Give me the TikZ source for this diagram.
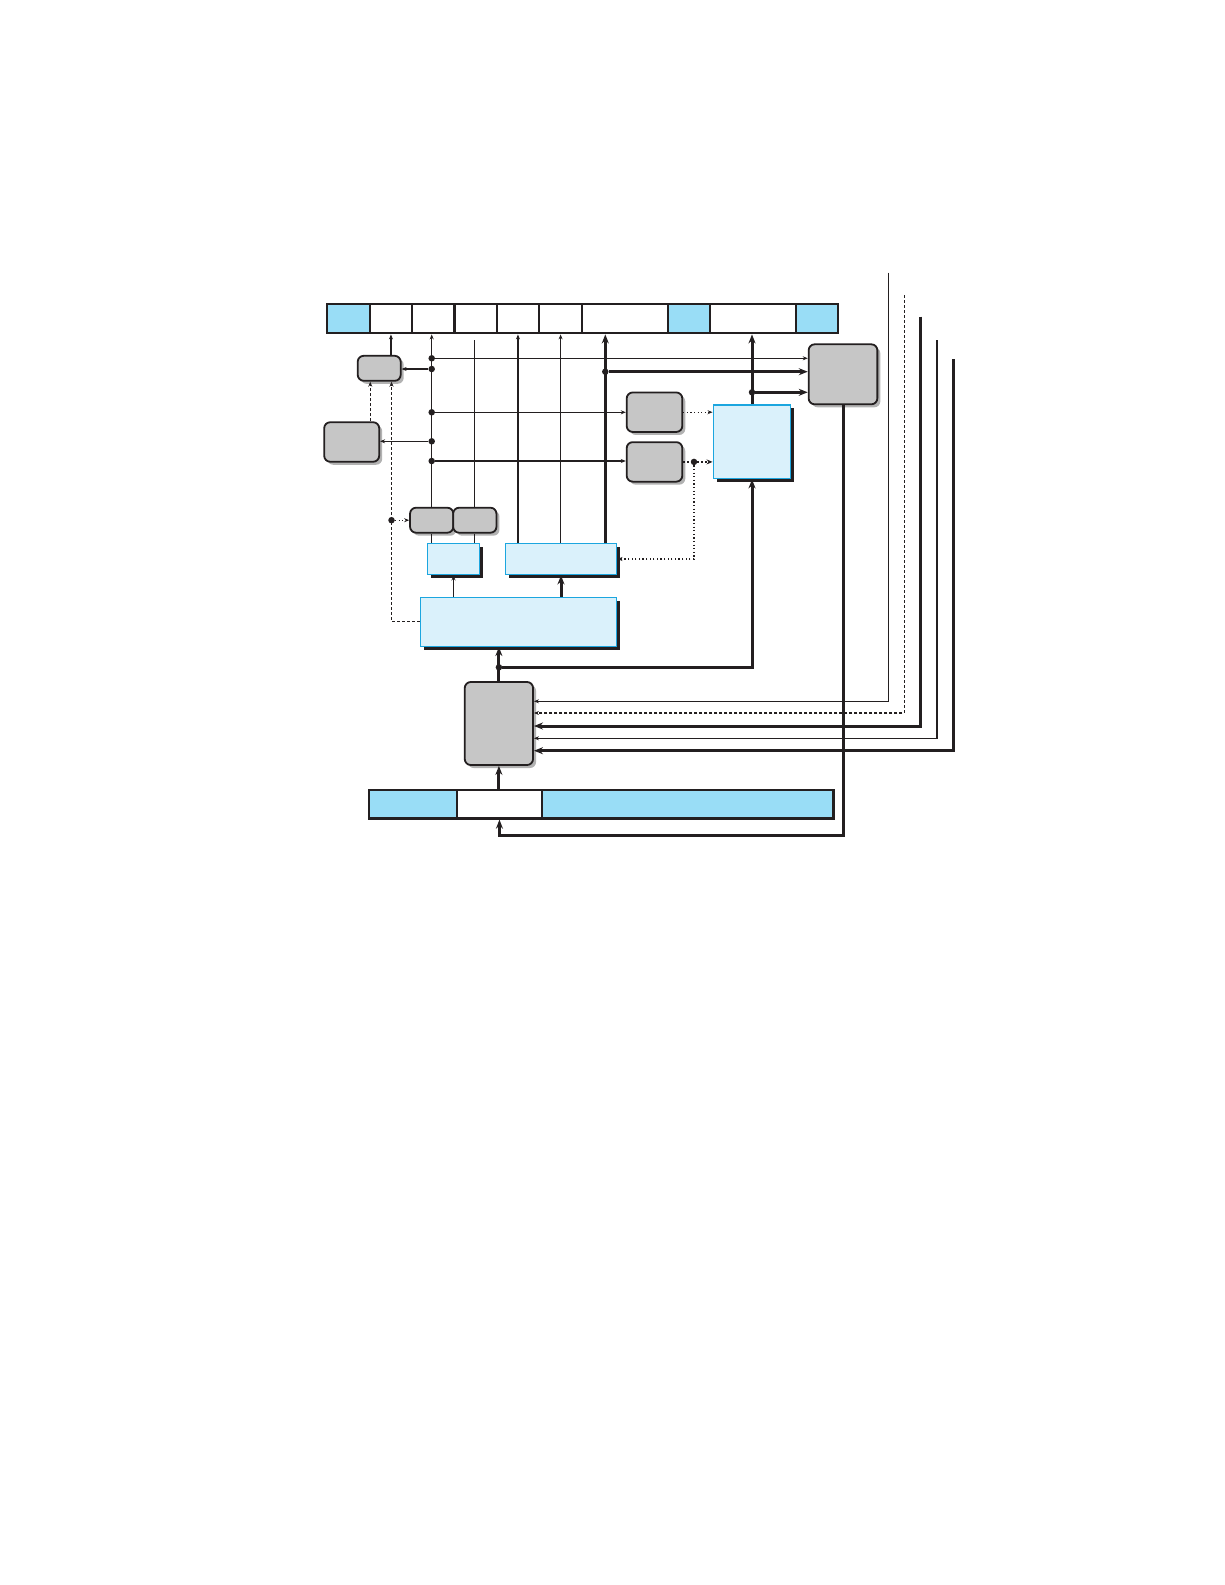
\documentclass[tikz,border=0pt]{standalone}
\usetikzlibrary{arrows.meta,shadows,calc}

\definecolor{ink}{HTML}{231F20}
\definecolor{regblue}{HTML}{99DDF6}
\definecolor{unitgray}{HTML}{C6C6C6}
\definecolor{stagefill}{HTML}{DAF1FB}
\definecolor{stageedge}{HTML}{1CA6DF}

\tikzset{
  cell/.style={draw=ink,line width=2.2pt,fill=white,minimum height=29pt,inner sep=0pt,anchor=west},
  unit/.style={draw=ink,line width=1.8pt,fill=unitgray,rounded corners=6pt,inner sep=0pt,
    drop shadow={shadow xshift=3pt,shadow yshift=-3pt,fill=black!30,opacity=1}},
  stage/.style={draw=stageedge,line width=1.5pt,fill=stagefill,inner sep=0pt,
    drop shadow={shadow xshift=3.5pt,shadow yshift=-3.5pt,fill=ink,opacity=1}},
  wire/.style={draw=ink,line width=1.2pt},
  sig/.style={wire,-{Stealth[length=5pt,width=4pt]}},
  sigdash/.style={sig,dash pattern=on 3pt off 2pt},
  sigdot/.style={sig,dash pattern=on 1.2pt off 2.4pt},
  bus/.style={draw=ink,line width=3pt,-{Stealth[length=9pt,width=7pt]}},
  busdot/.style={draw=ink,line width=2.6pt,dash pattern=on 2pt off 2pt},
  tap/.style={circle,fill=ink,inner sep=0pt,minimum size=6.5pt},
}

\begin{document}
\begin{tikzpicture}[x=1pt,y=-1pt]
  \useasboundingbox (0,0) rectangle (1225,1585);

  % instruction word (top) and incoming word (bottom)
  \foreach \n/\x/\w/\f in {t1/325.7/43/regblue,t2/368.7/42.3/white,t3/411/42.3/white,
      t4/453.3/42.4/white,t5/495.7/42.3/white,t6/538/43/white,t7/581/85.7/white,
      t8/666.7/42.3/regblue,t9/709/85.7/white,t10/794.7/42.3/regblue}
    \node[cell,fill=\f,minimum width=\w pt] (\n) at (\x,318.8) {};
  \foreach \n/\x/\w/\f in {b1/367.7/88/regblue,b2/455.7/85.3/white,b3/541/291.3/regblue}
    \node[cell,fill=\f,minimum width=\w pt,minimum height=28.5pt] (\n) at (\x,804.3) {};

  \node[unit,minimum width=43pt,minimum height=25pt] (unitA) at (379.2,368.3) {};
  \node[unit,minimum width=55pt,minimum height=39.5pt] (unitC) at (351.7,442) {};
  \node[unit,minimum width=55.6pt,minimum height=39.5pt] (unitB) at (654.5,412.2) {};
  \node[unit,minimum width=55.6pt,minimum height=39.5pt] (unitD) at (654.5,461.9) {};
  \node[unit,minimum width=68.7pt,minimum height=60pt] (unitE) at (843,374.3) {};
  \node[unit,minimum width=43.3pt,minimum height=25pt] (unitH1) at (431.7,520.2) {};
  \node[unit,minimum width=43.3pt,minimum height=25pt] (unitH2) at (474.8,520.2) {};
  \node[unit,minimum width=68.3pt,minimum height=83pt] (unitK) at (498.9,723.5) {};

  \node[stage,minimum width=77.4pt,minimum height=73.7pt] (stageF) at (752,441.8) {};
  \node[stage,minimum width=52.4pt,minimum height=31.4pt] (stageI) at (453.5,559) {};
  \node[stage,minimum width=111.4pt,minimum height=31.4pt] (stageG) at (561,559) {};
  \node[stage,minimum width=196.4pt,minimum height=49pt] (stageJ) at (518.5,621.8) {};

  \coordinate (e4) at (474.8,340);
  \coordinate (a1) at ($(unitA.south west)!.3!(unitA.south east)$);
  \coordinate (a2) at ($(unitA.south west)!.775!(unitA.south east)$);
  \coordinate (in1) at (888.3,272.7);
  \coordinate (in2) at (904.3,295);
  \coordinate (in3) at (920.3,316.7);
  \coordinate (in4) at (937,340);
  \coordinate (in5) at (953.7,359.3);

  % upward lines into the top word
  \path[sig] (unitH1.north) -- (unitH1.north |- t3.south);
  \path[wire] (unitH2.north) -- (e4);
  \path[sig] (stageG.north -| t5) -- (t5.south);
  \path[sig] (stageG.north -| t6) -- (t6.south);
  \path[bus] (605.3,0 |- stageG.north) -- (605.3,0 |- t7.south);
  \path[bus] (stageF.north) -- (stageF.north |- t9.south);
  \path[sig] (unitA.north -| t2) -- (t2.south);

  \node[tap] (d1) at (431.7,358.3) {};
  \node[tap] (d2) at (431.7,369) {};
  \node[tap] (d3) at (431.7,412.3) {};
  \node[tap] (d4) at (431.7,441.3) {};
  \node[tap] (d5) at (431.7,461) {};
  \node[tap] (d6) at (605.3,371.7) {};
  \node[tap] (d7) at (752,392.3) {};
  \node[tap] (d8) at (694,461.9) {};
  \node[tap] (d9) at (a2 |- unitH1.west) {};
  \node[tap] (d10) at (498.9,667.3) {};

  \path[sig] (d1) -- (d1 -| unitE.west);
  \path[sig] (d2) -- (d2 -| unitA.east);
  \path[bus] (d6) -- (d6 -| unitE.west);
  \path[bus] (d7) -- (d7 -| unitE.west);
  \path[sig] (d3) -- (d3 -| unitB.west);
  \path[sig] (d4) -- (d4 -| unitC.east);
  \path[sig] (d5) -- (d5 -| unitD.west);

  \path[sigdot] (unitB.east) -- (unitB.east -| stageF.west);
  \path[busdot] (unitD.east) -- (d8);
  \path[busdot,-{Stealth[length=6pt,width=5pt]}] (d8) -- (d8 -| stageF.west);
  \path[sigdot] (d8) |- (stageG.east);

  \path[sigdash] (a1 |- unitC.north) -- (a1);
  \path[sigdash] (stageJ.west) -| (a2);
  \path[sigdot] (d9) -- (d9 -| unitH1.west);

  \path[wire] (unitH1.south) -- (unitH1.south |- stageI.north);
  \path[wire] (unitH2.south) -- (unitH2.south |- stageI.north);
  \path[sig] (stageI.south |- stageJ.north) -- (stageI.south);
  \path[bus] (stageJ.north -| stageG.south) -- (stageG.south);

  \path[bus] (unitK.north) -- (unitK.north |- stageJ.south);
  \path[bus] (d10) -| (stageF.south);
  \path[bus] (unitK.south |- b2.north) -- (unitK.south);
  \path[bus] (unitE.south) |- ($(b2.south)+(0,15.5)$) -- (b2.south);

  \foreach \n/\y/\s in {in1/701.3/sig,in2/713/sigdash,in3/726/bus,in4/738.3/sig,in5/750.7/bus}
    \path[\s] (\n) |- (unitK.east |- 0,\y);
\end{tikzpicture}
\end{document}
